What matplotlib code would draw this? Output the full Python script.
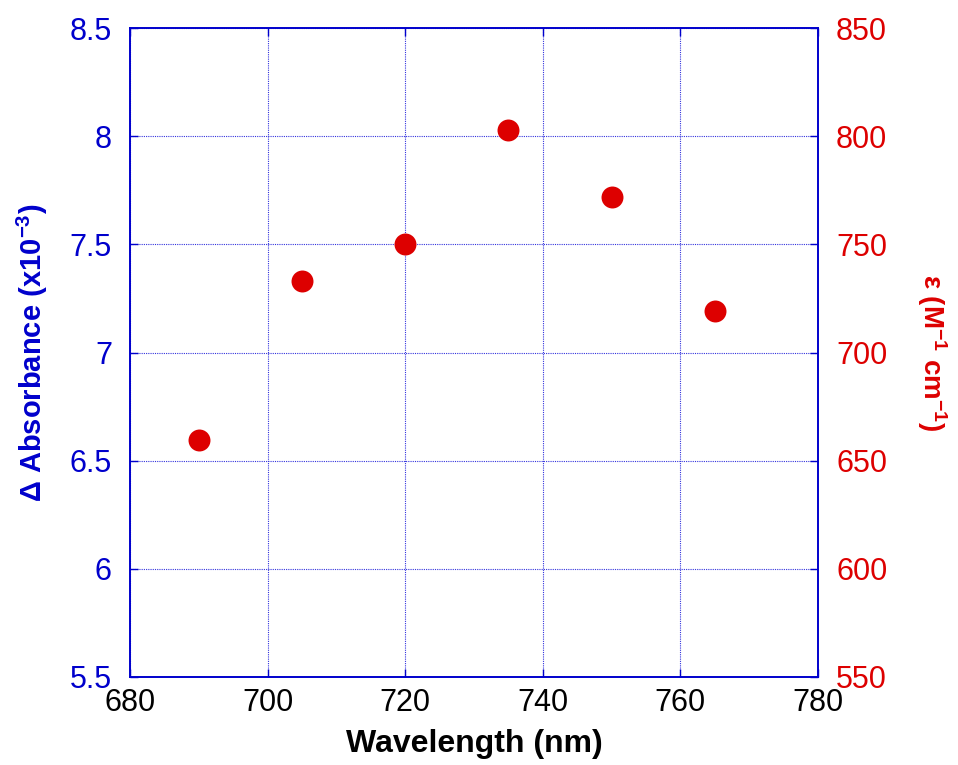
import matplotlib
matplotlib.use("Agg")
import matplotlib.pyplot as plt

wavelength = [690, 705, 720, 735, 750, 765]
delta_abs = [6.595, 7.33, 7.50, 8.03, 7.72, 7.19]  # x10^-3

x_ticks = [680, 700, 720, 740, 760, 780]
left_ticks = [5.5, 6, 6.5, 7, 7.5, 8, 8.5]
left_labels = ["5.5", "6", "6.5", "7", "7.5", "8", "8.5"]
right_ticks = [550, 600, 650, 700, 750, 800, 850]

plt.rcParams['font.family'] = ['Liberation Sans', 'DejaVu Sans']
plt.rcParams['mathtext.fontset'] = 'custom'
plt.rcParams['mathtext.rm'] = 'Liberation Sans:bold'
plt.rcParams['mathtext.default'] = 'rm'

BLUE = "#0000cc"
RED = "#dd0000"
GRIDC = "#3333dd"

fig = plt.figure(figsize=(9.58, 7.65), dpi=100)
ax = fig.add_axes([130/958, 1-677/765, (818-130)/958, (677-28)/765])

ax.scatter(wavelength, delta_abs, s=250, color=RED, zorder=3, linewidths=0)

ax.set_xlim(680, 780)
ax.set_ylim(5.5, 8.5)
ax.set_xticks(x_ticks)
ax.set_yticks(left_ticks)
ax.set_yticklabels(left_labels)
ax.grid(True, color=GRIDC, linestyle=(0, (1, 1)), linewidth=0.8)
for sp in ax.spines.values():
    sp.set_color(BLUE)
    sp.set_linewidth(1.2)
ax.tick_params(axis='both', direction='in', length=6, width=1, color=BLUE,
               labelsize=22, top=True)
ax.tick_params(axis='x', labelcolor='black', pad=8)
ax.tick_params(axis='y', labelcolor=BLUE, pad=13)

ax2 = ax.twinx()
ax2.set_ylim(550, 850)
ax2.set_yticks(right_ticks)
ax2.tick_params(axis='y', direction='in', length=6, width=1, color=BLUE,
                labelsize=22, labelcolor=RED, pad=13)
for sp in ax2.spines.values():
    sp.set_color(BLUE)
    sp.set_linewidth(1.2)

ax.set_xlabel("Wavelength (nm)", fontsize=23, fontweight='bold', labelpad=8)
ax.set_ylabel(r"Δ Absorbance (x10$^{-3}$)", fontsize=21, fontweight='bold',
              color=BLUE, labelpad=14)
ax2.set_ylabel(r"ε (M$^{-1}$ cm$^{-1}$)", fontsize=20, fontweight='bold',
               color=RED, rotation=270, labelpad=44)

fig.savefig("out.png", dpi=100)
